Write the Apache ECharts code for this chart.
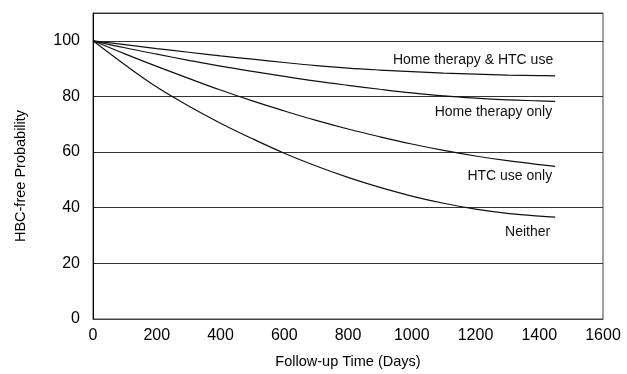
<!DOCTYPE html>
<html>
<head>
<meta charset="utf-8">
<script src="https://cdn.jsdelivr.net/npm/echarts@6/dist/echarts.min.js"></script>
<style>
html,body{margin:0;padding:0;background:#fff;}
#chart{width:627px;height:374px;}
</style>
</head>
<body>
<div id="chart"></div>
<script>
// Follow-up days at which curve values were read
var days = [0, 100, 200, 300, 400, 500, 600, 700, 800, 900, 1000, 1100, 1200, 1300, 1400, 1450];
var homeAndHtc = [100, 98.6, 97.2, 95.9, 94.6, 93.4, 92.2, 91.1, 90.2, 89.5, 88.9, 88.4, 88.0, 87.7, 87.5, 87.4];
var homeOnly   = [100, 97.5, 95.2, 93.0, 90.9, 89.0, 87.2, 85.5, 84.0, 82.6, 81.3, 80.2, 79.4, 78.8, 78.4, 78.2];
var htcOnly    = [100, 95.3, 90.8, 86.5, 82.3, 78.4, 74.8, 71.4, 68.3, 65.5, 62.9, 60.6, 58.6, 56.9, 55.5, 54.9];
var neither    = [100, 91.4, 83.4, 76.6, 70.4, 64.8, 59.6, 55.0, 50.9, 47.3, 44.2, 41.6, 39.5, 38.0, 37.0, 36.6];
var seriesNames = ['Home therapy & HTC use', 'Home therapy only', 'HTC use only', 'Neither'];
var xTicks = [0, 200, 400, 600, 800, 1000, 1200, 1400, 1600];
var yTicks = [0, 20, 40, 60, 80, 100];

function pairs(vals) { return days.map(function (d, i) { return [d, vals[i]]; }); }

var font = 'Liberation Sans, Arial, sans-serif';
var labelOffsets = [[-10, -16], [-11, 11], [-11, 10], [-13, 15]];
var allVals = [homeAndHtc, homeOnly, htcOnly, neither];

var chart = echarts.init(document.getElementById('chart'));
chart.setOption({
  animation: false,
  backgroundColor: '#fff',
  grid: { left: 93, right: 24, top: 13, bottom: 53, show: true, borderColor: '#444', borderWidth: 1 },
  xAxis: {
    type: 'value', min: 0, max: 1600, interval: 200,
    name: 'Follow-up Time (Days)', nameLocation: 'middle', nameGap: 35,
    nameTextStyle: { fontFamily: font, fontSize: 14.5, color: '#000' },
    axisLine: { show: true, lineStyle: { color: '#444', width: 1 } },
    axisTick: { show: false },
    splitLine: { show: false },
    axisLabel: { margin: 9, fontFamily: font, fontSize: 16, color: '#000',
      formatter: function (v) { return xTicks.indexOf(v) >= 0 ? String(v) : ''; } }
  },
  yAxis: {
    type: 'value', min: 0, max: 110, interval: 20,
    name: 'HBC-free Probability', nameLocation: 'middle', nameGap: 65,
    nameTextStyle: { fontFamily: font, fontSize: 14.5, color: '#000', padding: [0, 20, 0, 0] },
    axisLine: { show: true, lineStyle: { color: '#000', width: 1 } },
    axisTick: { show: false },
    splitLine: { show: true, lineStyle: { color: '#333', width: 1 } },
    axisLabel: { margin: 13, fontFamily: font, fontSize: 16, color: '#000',
      formatter: function (v) { return yTicks.indexOf(v) >= 0 ? String(v) : ''; } }
  },
  series: allVals.map(function (vals, i) {
    return {
      type: 'line', name: seriesNames[i], data: pairs(vals),
      smooth: 0.4, showSymbol: false, symbol: 'none',
      lineStyle: { color: '#111', width: 1.2 },
      endLabel: {
        show: true, formatter: seriesNames[i], align: 'right', verticalAlign: 'middle',
        offset: labelOffsets[i], fontFamily: font, fontSize: 14, color: '#111'
      }
    };
  })
});
</script>
</body>
</html>
